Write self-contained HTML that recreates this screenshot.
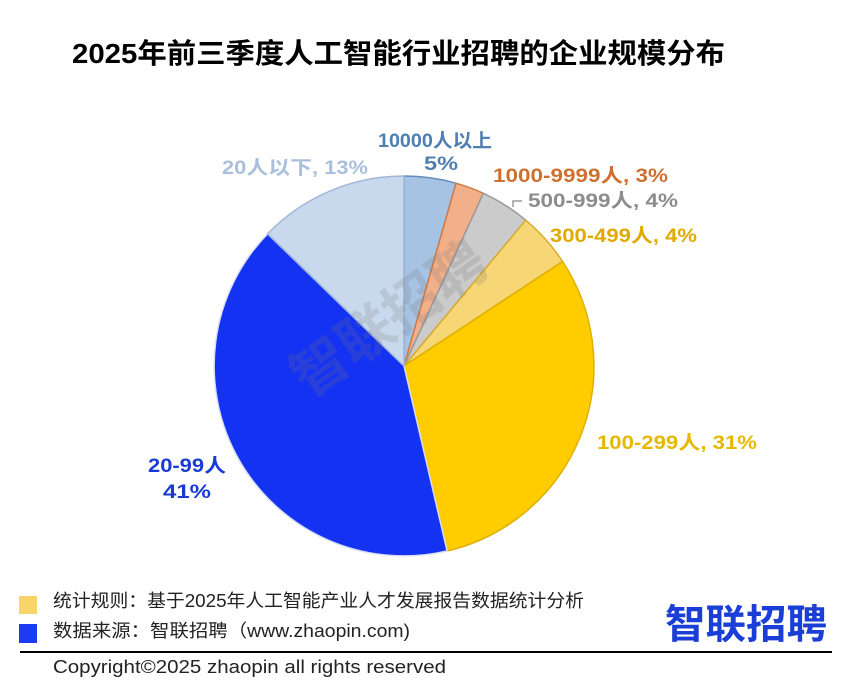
<!DOCTYPE html>
<html><head><meta charset="utf-8"><style>
body{margin:0;width:847px;height:684px;background:#fff;overflow:hidden;font-family:"Liberation Sans","Noto Sans CJK SC",sans-serif;}
</style></head><body>
<svg width="847" height="684" xmlns="http://www.w3.org/2000/svg" style="position:absolute;left:0;top:0">
<text x="72" y="63" font-size="28" font-weight="bold" fill="#000" textLength="653" lengthAdjust="spacingAndGlyphs" font-family="Liberation Sans,Noto Sans CJK SC,sans-serif">2025年前三季度人工智能行业招聘的企业规模分布</text>
<g stroke-width="1.5" stroke-linejoin="round">
<path d="M404,366 L404,176 A190,190 0 0 1 456,183.2 Z" fill="#a6c3e4" stroke="#5f8cbd"/>
<path d="M404,366 L456,183.2 A190,190 0 0 1 483.4,193.3 Z" fill="#f2b08a" stroke="#d07a44"/>
<path d="M404,366 L483.4,193.3 A190,190 0 0 1 525.8,220.2 Z" fill="#cbcbcb" stroke="#9a9a9a"/>
<path d="M404,366 L525.8,220.2 A190,190 0 0 1 562.6,261.5 Z" fill="#f6d675" stroke="#d9ab2a"/>
<path d="M404,366 L562.6,261.5 A190,190 0 0 1 447.1,551 Z" fill="#ffcc00" stroke="#e0b000"/>
<path d="M404,366 L447.1,551 A190,190 0 0 1 267.6,233.8 Z" fill="#1432f2" stroke="#d9def5"/>
<path d="M404,366 L267.6,233.8 A190,190 0 0 1 404,176 Z" fill="#c8d9ee" stroke="#9fb7d8"/>
</g>
<text x="400" y="335" font-size="56" font-weight="bold" fill="#777" opacity="0.2" transform="rotate(-35 400 335)" text-anchor="middle" font-family="Noto Sans CJK SC,sans-serif">智联招聘</text>
<g font-size="19" font-weight="bold" font-family="Liberation Sans,Noto Sans CJK SC,sans-serif">
<text x="378" y="147" fill="#4f7fb0" textLength="114" lengthAdjust="spacingAndGlyphs">10000人以上</text>
<text x="424" y="170" fill="#4f7fb0" textLength="34" lengthAdjust="spacingAndGlyphs">5%</text>
<text x="493" y="182" fill="#d0702e" textLength="175" lengthAdjust="spacingAndGlyphs">1000-9999人, 3%</text>
<text x="528" y="207" fill="#8c8c8c" textLength="150" lengthAdjust="spacingAndGlyphs">500-999人, 4%</text>
<path d="M513,207 L513,201 L522,201" stroke="#9a9a9a" fill="none" stroke-width="1.5"/>
<text x="550" y="242" fill="#e0aa00" textLength="147" lengthAdjust="spacingAndGlyphs">300-499人, 4%</text>
<text x="597" y="449" fill="#e6b800" textLength="160" lengthAdjust="spacingAndGlyphs">100-299人, 31%</text>
<text x="148" y="472" fill="#1a3ad8" textLength="78" lengthAdjust="spacingAndGlyphs">20-99人</text>
<text x="163" y="498" fill="#1a3ad8" textLength="48" lengthAdjust="spacingAndGlyphs">41%</text>
<text x="222" y="174" fill="#a9bfdc" textLength="146" lengthAdjust="spacingAndGlyphs">20人以下, 13%</text>
</g>
<rect x="19" y="596" width="18" height="18" fill="#f8d56a"/>
<rect x="19" y="624" width="18" height="19" fill="#1c3cf2"/>
<g font-size="18" fill="#222" font-family="Liberation Sans,Noto Sans CJK SC,sans-serif">
<text x="53" y="607" textLength="531" lengthAdjust="spacingAndGlyphs">统计规则：基于2025年人工智能产业人才发展报告数据统计分析</text>
<text x="53" y="637" textLength="357" lengthAdjust="spacingAndGlyphs">数据来源：智联招聘（www.zhaopin.com)</text>
<text x="53" y="673" textLength="393" lengthAdjust="spacingAndGlyphs">Copyright©2025 zhaopin all rights reserved</text>
</g>
<text x="665" y="638" font-size="40" font-weight="bold" fill="#1b3fd6" textLength="162" lengthAdjust="spacingAndGlyphs" font-family="Noto Sans CJK SC,sans-serif">智联招聘</text>
<line x1="20" y1="652" x2="832" y2="652" stroke="#000" stroke-width="2"/>
</svg>
</body></html>
